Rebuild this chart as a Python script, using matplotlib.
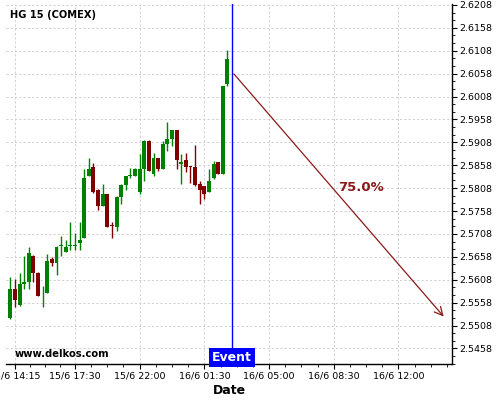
import matplotlib
matplotlib.use("Agg")
import matplotlib.pyplot as plt
import numpy as np
from matplotlib.ticker import FixedLocator

# 15-minute candles (index positions on a gap-free time axis)
opens  = [2.5524, 2.5588, 2.5554, 2.5599, 2.5604, 2.5660, 2.5623, 2.5583, 2.5580, 2.5653,
          2.5646, 2.5681, 2.5670, 2.5681, 2.5682, 2.5689, 2.5700, 2.5835, 2.5854, 2.5804,
          2.5770, 2.5795, 2.5726, 2.5724, 2.5789, 2.5815, 2.5835, 2.5835, 2.5800, 2.5850,
          2.5911, 2.5840, 2.5873, 2.5850, 2.5904, 2.5915, 2.5934, 2.5861, 2.5869, 2.5856,
          2.5854, 2.5816, 2.5812, 2.5800, 2.5831, 2.5864, 2.5840, 2.6035]
highs  = [2.5613, 2.5609, 2.5623, 2.5659, 2.5679, 2.5661, 2.5624, 2.5595, 2.5664, 2.5658,
          2.5681, 2.5703, 2.5694, 2.5733, 2.5709, 2.5734, 2.5849, 2.5873, 2.5863, 2.5805,
          2.5818, 2.5796, 2.5733, 2.5790, 2.5816, 2.5835, 2.5853, 2.5851, 2.5883, 2.5913,
          2.5914, 2.5885, 2.5874, 2.5911, 2.5953, 2.5935, 2.5935, 2.5883, 2.5884, 2.5857,
          2.5903, 2.5824, 2.5813, 2.5850, 2.5867, 2.5865, 2.6031, 2.6110]
lows   = [2.5522, 2.5548, 2.5551, 2.5588, 2.5587, 2.5603, 2.5572, 2.5548, 2.5579, 2.5638,
          2.5618, 2.5660, 2.5669, 2.5673, 2.5672, 2.5673, 2.5699, 2.5834, 2.5798, 2.5760,
          2.5769, 2.5723, 2.5699, 2.5714, 2.5773, 2.5803, 2.5831, 2.5834, 2.5795, 2.5823,
          2.5845, 2.5835, 2.5845, 2.5849, 2.5889, 2.5900, 2.5850, 2.5818, 2.5844, 2.5819,
          2.5813, 2.5773, 2.5784, 2.5799, 2.5829, 2.5839, 2.5838, 2.6030]
closes = [2.5588, 2.5565, 2.5599, 2.5602, 2.5665, 2.5623, 2.5573, 2.5584, 2.5649, 2.5646,
          2.5680, 2.5683, 2.5680, 2.5683, 2.5684, 2.5695, 2.5830, 2.5850, 2.5800, 2.5770,
          2.5795, 2.5724, 2.5725, 2.5789, 2.5815, 2.5834, 2.5837, 2.5850, 2.5850, 2.5911,
          2.5846, 2.5873, 2.5850, 2.5904, 2.5915, 2.5934, 2.5870, 2.5865, 2.5855, 2.5855,
          2.5816, 2.5805, 2.5796, 2.5824, 2.5861, 2.5840, 2.6030, 2.6089]

tick_pos    = [1, 14, 28, 42, 56, 70, 84]
tick_labels = ["15/6 14:15", "15/6 17:30", "15/6 22:00", "16/6 01:30",
               "16/6 05:00", "16/6 08:30", "16/6 12:00"]
y_ticks = [2.5458, 2.5508, 2.5558, 2.5608, 2.5658, 2.5708, 2.5758, 2.5808,
           2.5858, 2.5908, 2.5958, 2.6008, 2.6058, 2.6108, 2.6158, 2.6208]

event_x = 48
arrow_start = (48, 2.6062)
arrow_end = (94.2, 2.5523)
prob_text = "75.0%"

GREEN = "#008000"
RED = "#800000"

fig = plt.figure(figsize=(5, 4), dpi=100)
ax = fig.add_axes([0.012, 0.09, 0.892, 0.90])

x = np.arange(len(opens))
o = np.array(opens); h = np.array(highs); l = np.array(lows); c = np.array(closes)
up = c >= o
cols = np.where(up, GREEN, RED)
ax.vlines(x, l, h, colors=cols, linewidth=1.0, zorder=3)
ax.bar(x, np.abs(c - o) + 0.00008, bottom=np.minimum(o, c) - 0.00004, width=0.85,
       color=cols, linewidth=0, zorder=4)

ax.set_xlim(-0.93, 95.6)
ax.set_ylim(2.5424, 2.6210)

ax.xaxis.set_major_locator(FixedLocator(tick_pos))
ax.set_xticklabels(tick_labels)
minors = []
for a, b in zip(tick_pos[:-1], tick_pos[1:]):
    minors += list(np.linspace(a, b, 5)[1:-1])
minors += [87.5, 91.0, 94.5]
ax.xaxis.set_minor_locator(FixedLocator(minors))

ax.yaxis.tick_right()
ax.set_yticks(y_ticks)
ax.set_yticklabels([f"{v:.4f}" for v in y_ticks])
ax.yaxis.set_minor_locator(FixedLocator(
    [v + k * 0.005 / 3 for v in [2.5408] + y_ticks for k in (1, 2)]))

for s in ["left", "top"]:
    ax.spines[s].set_visible(False)
for s in ["right", "bottom"]:
    ax.spines[s].set_linewidth(1.0)

ax.tick_params(axis="both", which="major", labelsize=6.8, length=3.5, width=0.8, pad=2)
ax.tick_params(axis="both", which="minor", length=2, width=0.6)
ax.tick_params(axis="y", which="both", left=False, right=True)

ax.grid(True, which="major", color="#cfcfcf", linestyle=(0, (2.2, 2.2)), linewidth=0.7, zorder=0)
ax.set_axisbelow(True)

ax.axvline(event_x, color="#0000ff", linewidth=1.0, zorder=5)
ax.annotate("", xy=arrow_end, xytext=arrow_start,
            arrowprops=dict(arrowstyle="->,head_length=0.6,head_width=0.3",
                            color="#8b1a1a", linewidth=0.9), zorder=6)
ax.text(71, 2.5810, prob_text, color="#8b1a1a", fontsize=9.5, fontweight="bold",
        ha="left", va="center", zorder=7)

ax.text(10 / 500, 1 - 15 / 400, "HG 15 (COMEX)", transform=fig.transFigure,
        fontsize=7.1, fontweight="bold", ha="left", va="center")
ax.text(15 / 500, 1 - 354 / 400, "www.delkos.com", transform=fig.transFigure,
        fontsize=7.2, fontweight="bold", ha="left", va="center")
ax.text(event_x, 2.5424, "Event", fontsize=9, fontweight="bold", color="white",
        ha="center", va="bottom", zorder=8,
        bbox=dict(boxstyle="square,pad=0.22", facecolor="#0000ff", edgecolor="none"))
fig.text(0.458, 1 - 390 / 400, "Date", fontsize=9, fontweight="bold",
         ha="center", va="center")

fig.savefig("out.png", dpi=100)
